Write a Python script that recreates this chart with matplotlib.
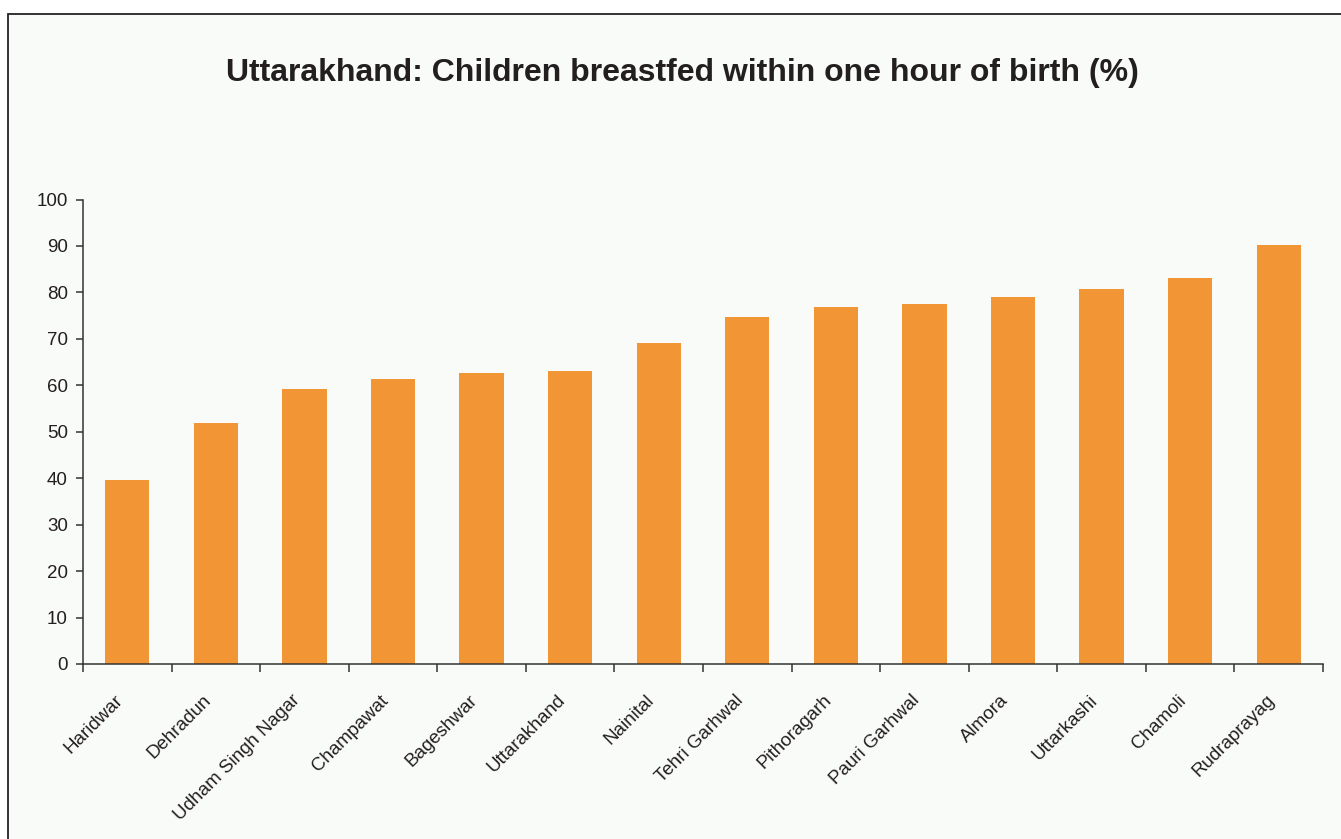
import matplotlib.pyplot as plt
import matplotlib.transforms as mtransforms
from matplotlib.patches import Rectangle

# Data
districts = ["Haridwar", "Dehradun", "Udham Singh Nagar", "Champawat", "Bageshwar",
             "Uttarakhand", "Nainital", "Tehri Garhwal", "Pithoragarh", "Pauri Garhwal",
             "Almora", "Uttarkashi", "Chamoli", "Rudraprayag"]
breastfed_pct = [39.7, 51.9, 59.1, 61.4, 62.7, 63.1, 69.0, 74.6, 76.9, 77.6,
                 79.1, 80.8, 83.0, 90.3]
y_ticks = [0, 10, 20, 30, 40, 50, 60, 70, 80, 90, 100]

plt.rcParams['font.family'] = ['Liberation Sans', 'DejaVu Sans']

bg = "#F9FBF8"
bar_color = "#F19535"
text_color = "#231F20"

fig = plt.figure(figsize=(13.41, 8.39), dpi=100, facecolor="white")

# outer frame of the chart area
frame = Rectangle((8 / 1341, -0.1), 1.2, 1 - 14 / 839 + 0.1,
                  transform=fig.transFigure, facecolor=bg,
                  edgecolor="#222222", linewidth=1.3, zorder=-10)
fig.patches.append(frame)

ax = fig.add_axes([83 / 1341, 1 - 664 / 839, (1323 - 83) / 1341, (664 - 199.5) / 839])
ax.set_zorder(5)
ax.patch.set_alpha(0)

x = list(range(len(districts)))
ax.bar(x, breastfed_pct, width=0.5, color=bar_color, zorder=2)

ax.set_xlim(-0.5, len(districts) - 0.5)
ax.set_ylim(0, 100)
ax.set_yticks(y_ticks)
ax.set_yticklabels([str(v) for v in y_ticks], fontsize=13.5, color=text_color)

# ticks sit between categories, labels at the centres
ax.set_xticks([i - 0.5 for i in range(len(districts) + 1)])
ax.set_xticklabels([])
ax.set_xticks(x, minor=True)
ax.set_xticklabels(districts, minor=True, rotation=45, ha="right", va="top",
                   rotation_mode="anchor", fontsize=13.5, color=text_color)
ax.tick_params(axis="x", which="minor", length=0, pad=20)
ax.tick_params(axis="x", which="major", length=6, width=1.1, color="#333333", direction="out")
ax.tick_params(axis="y", length=5, width=1.1, color="#333333", pad=6)

# nudge the slanted labels a bit left of the bar centres
offset = mtransforms.ScaledTranslation(-13 / 100, 0, fig.dpi_scale_trans)
for lbl in ax.get_xticklabels(minor=True):
    lbl.set_transform(lbl.get_transform() + offset)

for side in ["top", "right"]:
    ax.spines[side].set_visible(False)
for side in ["left", "bottom"]:
    ax.spines[side].set_color("#333333")
    ax.spines[side].set_linewidth(1.1)

fig.text(682 / 1341, 1 - 73 / 839, "Uttarakhand: Children breastfed within one hour of birth (%)",
         ha="center", va="center", fontsize=23, fontweight="bold", color=text_color)

fig.savefig("out.png", dpi=100, facecolor="white")
